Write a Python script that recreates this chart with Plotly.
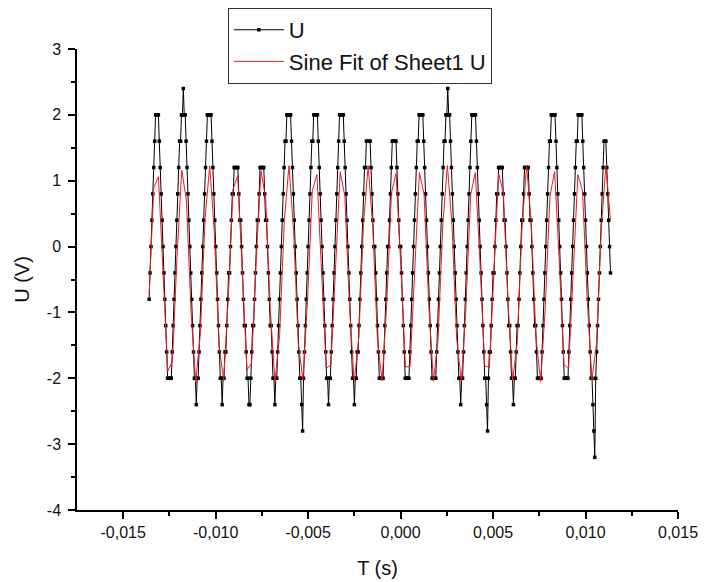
import plotly.graph_objects as go

# ---------------- data ----------------
# sample times of the measured signal, in milliseconds
T_MS = [
    -13.60,-13.55,-13.50,-13.45,-13.40,-13.35,-13.30,-13.25,-13.20,-13.15,-13.10,-13.05,-13.00,-12.95,-12.90,-12.85,-12.80,-12.75,-12.70,-12.65,
    -12.60,-12.55,-12.50,-12.45,-12.40,-12.35,-12.30,-12.25,-12.20,-12.15,-12.10,-12.05,-12.00,-11.95,-11.90,-11.85,-11.80,-11.75,-11.70,-11.65,
    -11.60,-11.55,-11.50,-11.45,-11.40,-11.35,-11.30,-11.25,-11.20,-11.15,-11.10,-11.05,-11.00,-10.95,-10.90,-10.85,-10.80,-10.75,-10.70,-10.65,
    -10.60,-10.55,-10.50,-10.45,-10.40,-10.35,-10.30,-10.25,-10.20,-10.15,-10.10,-10.05,-10.00,-9.95,-9.90,-9.85,-9.80,-9.75,-9.70,-9.65,
    -9.60,-9.55,-9.50,-9.45,-9.40,-9.35,-9.30,-9.25,-9.20,-9.15,-9.10,-9.05,-9.00,-8.95,-8.90,-8.85,-8.80,-8.75,-8.70,-8.65,
    -8.60,-8.55,-8.50,-8.45,-8.40,-8.35,-8.30,-8.25,-8.20,-8.15,-8.10,-8.05,-8.00,-7.95,-7.90,-7.85,-7.80,-7.75,-7.70,-7.65,
    -7.60,-7.55,-7.50,-7.45,-7.40,-7.35,-7.30,-7.25,-7.20,-7.15,-7.10,-7.05,-7.00,-6.95,-6.90,-6.85,-6.80,-6.75,-6.70,-6.65,
    -6.60,-6.55,-6.50,-6.45,-6.40,-6.35,-6.30,-6.25,-6.20,-6.15,-6.10,-6.05,-6.00,-5.95,-5.90,-5.85,-5.80,-5.75,-5.70,-5.65,
    -5.60,-5.55,-5.50,-5.45,-5.40,-5.35,-5.30,-5.25,-5.20,-5.15,-5.10,-5.05,-5.00,-4.95,-4.90,-4.85,-4.80,-4.75,-4.70,-4.65,
    -4.60,-4.55,-4.50,-4.45,-4.40,-4.35,-4.30,-4.25,-4.20,-4.15,-4.10,-4.05,-4.00,-3.95,-3.90,-3.85,-3.80,-3.75,-3.70,-3.65,
    -3.60,-3.55,-3.50,-3.45,-3.40,-3.35,-3.30,-3.25,-3.20,-3.15,-3.10,-3.05,-3.00,-2.95,-2.90,-2.85,-2.80,-2.75,-2.70,-2.65,
    -2.60,-2.55,-2.50,-2.45,-2.40,-2.35,-2.30,-2.25,-2.20,-2.15,-2.10,-2.05,-2.00,-1.95,-1.90,-1.85,-1.80,-1.75,-1.70,-1.65,
    -1.60,-1.55,-1.50,-1.45,-1.40,-1.35,-1.30,-1.25,-1.20,-1.15,-1.10,-1.05,-1.00,-0.95,-0.90,-0.85,-0.80,-0.75,-0.70,-0.65,
    -0.60,-0.55,-0.50,-0.45,-0.40,-0.35,-0.30,-0.25,-0.20,-0.15,-0.10,-0.05,0.00,0.05,0.10,0.15,0.20,0.25,0.30,0.35,
    0.40,0.45,0.50,0.55,0.60,0.65,0.70,0.75,0.80,0.85,0.90,0.95,1.00,1.05,1.10,1.15,1.20,1.25,1.30,1.35,
    1.40,1.45,1.50,1.55,1.60,1.65,1.70,1.75,1.80,1.85,1.90,1.95,2.00,2.05,2.10,2.15,2.20,2.25,2.30,2.35,
    2.40,2.45,2.50,2.55,2.60,2.65,2.70,2.75,2.80,2.85,2.90,2.95,3.00,3.05,3.10,3.15,3.20,3.25,3.30,3.35,
    3.40,3.45,3.50,3.55,3.60,3.65,3.70,3.75,3.80,3.85,3.90,3.95,4.00,4.05,4.10,4.15,4.20,4.25,4.30,4.35,
    4.40,4.45,4.50,4.55,4.60,4.65,4.70,4.75,4.80,4.85,4.90,4.95,5.00,5.05,5.10,5.15,5.20,5.25,5.30,5.35,
    5.40,5.45,5.50,5.55,5.60,5.65,5.70,5.75,5.80,5.85,5.90,5.95,6.00,6.05,6.10,6.15,6.20,6.25,6.30,6.35,
    6.40,6.45,6.50,6.55,6.60,6.65,6.70,6.75,6.80,6.85,6.90,6.95,7.00,7.05,7.10,7.15,7.20,7.25,7.30,7.35,
    7.40,7.45,7.50,7.55,7.60,7.65,7.70,7.75,7.80,7.85,7.90,7.95,8.00,8.05,8.10,8.15,8.20,8.25,8.30,8.35,
    8.40,8.45,8.50,8.55,8.60,8.65,8.70,8.75,8.80,8.85,8.90,8.95,9.00,9.05,9.10,9.15,9.20,9.25,9.30,9.35,
    9.40,9.45,9.50,9.55,9.60,9.65,9.70,9.75,9.80,9.85,9.90,9.95,10.00,10.05,10.10,10.15,10.20,10.25,10.30,10.35,
    10.40,10.45,10.50,10.55,10.60,10.65,10.70,10.75,10.80,10.85,10.90,10.95,11.00,11.05,11.10,11.15,11.20,11.25,11.30,11.35,
]

# measured voltage U (V), quantised in 0.4 V steps, one line per cycle
U = [
    -0.8,-0.4,0,0.4,0.8,1.2,1.6,2.0,
    2.0,2.0,2.0,1.6,1.2,0.8,0.4,0,-0.4,-0.8,-1.2,-1.6,-2.0,-2.0, -2.0,-2.0,-2.0,-1.6,-1.2,-0.8,-0.4,0,0.4,0.8,1.2,1.6,1.6,2.0,2.0,
    2.4,2.0,2.0,1.6,1.2,0.8,0.4,0,-0.4,-0.8,-1.2,-1.6,-2.0,-2.0, -2.4,-2.0,-2.0,-1.6,-1.2,-0.8,-0.4,0,0.4,0.8,1.2,1.6,2.0,2.0,
    2.0,2.0,2.0,1.6,1.2,0.8,0.4,0,-0.4,-0.8,-1.2,-1.6,-2.0,-2.0, -2.4,-2.0,-2.0,-1.6,-1.6,-1.2,-0.8,-0.4,-0.4,0,0.4,0.8,0.8,1.2,1.2,
    1.2,1.2,1.2,0.8,0.4,0.4,0,-0.4,-0.8,-1.2,-1.2,-1.6,-2.0,-2.0, -2.4,-2.4,-2.0,-1.6,-1.2,-1.2,-0.8,-0.4,0,0.4,0.4,0.8,1.2,1.2,
    1.2,1.2,1.2,0.8,0.4,0.4,0,-0.4,-0.8,-1.2,-1.2,-1.6,-2.0,-2.0, -2.4,-2.0,-2.0,-1.6,-1.2,-0.8,-0.4,0,0.4,0.8,1.2,1.6,1.6,2.0,2.0,
    2.0,2.0,2.0,1.6,1.2,0.8,0.4,0,-0.4,-0.8,-1.2,-1.6,-2.0,-2.0, -2.4,-2.8,-2.0,-1.6,-1.2,-0.8,-0.4,0,0.4,0.8,1.2,1.6,1.6,2.0,2.0,
    2.0,2.0,2.0,1.6,1.2,0.8,0.4,0,-0.4,-0.8,-1.2,-1.6,-2.0,-2.0, -2.4,-2.0,-2.0,-1.6,-1.2,-0.8,-0.4,0,0.4,0.8,1.2,1.6,2.0,2.0,
    2.0,2.0,2.0,1.6,1.2,0.8,0.4,0,-0.4,-0.8,-1.2,-1.6,-2.0,-2.0, -2.4,-2.0,-2.0,-1.6,-1.6,-1.2,-0.8,-0.4,0,0.4,0.8,1.2,1.2,1.6,1.6,
    1.6,1.6,1.6,1.2,0.8,0.4,0,0,-0.4,-0.8,-1.2,-1.6,-2.0,-2.0, -2.0,-2.0,-2.0,-1.6,-1.2,-0.8,-0.4,0,0,0.4,0.8,1.2,1.6,1.6,
    1.6,1.6,1.6,1.2,0.8,0.4,0,0,-0.4,-0.8,-1.2,-1.6,-2.0,-2.0, -2.0,-2.0,-2.0,-1.6,-1.2,-0.8,-0.4,0,0.4,0.8,1.2,1.6,1.6,2.0,2.0,
    2.0,2.0,2.0,1.6,1.2,0.8,0.4,0,-0.4,-0.8,-1.2,-1.6,-2.0,-2.0, -2.0,-2.0,-2.0,-1.6,-1.2,-0.8,-0.4,0,0.4,0.8,1.2,1.6,1.6,2.0,2.0,
    2.4,2.0,2.0,1.6,1.2,0.8,0.4,0,-0.4,-0.8,-1.2,-1.6,-2.0,-2.0, -2.4,-2.0,-2.0,-1.6,-1.2,-0.8,-0.4,0,0.4,0.8,1.2,1.6,2.0,2.0,
    2.0,2.0,2.0,1.6,1.2,0.8,0.4,0,-0.4,-0.8,-1.2,-1.6,-2.0,-2.0, -2.4,-2.8,-2.0,-1.6,-1.6,-1.2,-0.8,-0.4,-0.4,0,0.4,0.8,0.8,1.2,1.2,
    1.2,1.2,1.2,0.8,0.4,0.4,0,-0.4,-0.8,-1.2,-1.2,-1.6,-2.0,-2.0, -2.4,-2.0,-2.0,-1.6,-1.2,-1.2,-0.8,-0.4,0,0.4,0.4,0.8,1.2,1.2,
    1.2,1.2,1.2,0.8,0.4,0.4,0,-0.4,-0.8,-1.2,-1.2,-1.6,-2.0,-2.0, -2.0,-2.0,-2.0,-1.6,-1.2,-0.8,-0.4,0,0.4,0.8,1.2,1.6,1.6,2.0,2.0,
    2.0,2.0,2.0,1.6,1.2,0.8,0.4,0,-0.4,-0.8,-1.2,-1.6,-2.0,-2.0, -2.0,-2.0,-2.0,-1.6,-1.2,-0.8,-0.4,0,0.4,0.8,1.2,1.6,1.6,2.0,2.0,
    2.0,2.0,2.0,1.6,1.2,0.8,0.4,0,-0.4,-0.8,-1.2,-1.6,-2.0,-2.0, -2.4,-2.8,-3.2,-2.0,-1.6,-1.2,-0.8,-0.4,0,0.4,0.8,1.2,1.6,1.6,
    1.6,1.2,0.8,0.4,0,-0.4,
]

# points of the fitted sine curve (100 points across the data range)
FIT_T_MS = [
    -13.600,-13.348,-13.096,-12.844,-12.592,-12.340,-12.088,-11.836,-11.584,-11.332,
    -11.080,-10.828,-10.576,-10.324,-10.072,-9.820,-9.568,-9.316,-9.064,-8.812,
    -8.560,-8.308,-8.056,-7.804,-7.552,-7.299,-7.047,-6.795,-6.543,-6.291,
    -6.039,-5.787,-5.535,-5.283,-5.031,-4.779,-4.527,-4.275,-4.023,-3.771,
    -3.519,-3.267,-3.015,-2.763,-2.511,-2.259,-2.007,-1.755,-1.503,-1.251,
    -0.999,-0.747,-0.495,-0.243,0.009,0.261,0.513,0.765,1.017,1.269,
    1.521,1.773,2.025,2.277,2.529,2.781,3.033,3.285,3.537,3.789,
    4.041,4.293,4.545,4.797,5.049,5.302,5.554,5.806,6.058,6.310,
    6.562,6.814,7.066,7.318,7.570,7.822,8.074,8.326,8.578,8.830,
    9.082,9.334,9.586,9.838,10.090,10.342,10.594,10.846,11.098,11.350,
]
FIT_U = [
    -0.726,0.893,1.061,-0.410,-1.891,-1.746,-0.134,1.161,0.708,-0.993,
    -2.060,-1.314,0.421,1.226,0.210,-1.502,-2.018,-0.766,0.868,1.078,
    -0.369,-1.872,-1.770,-0.174,1.149,0.737,-0.954,-2.055,-1.348,0.386,
    1.228,0.248,-1.471,-2.028,-0.806,0.842,1.095,-0.328,-1.852,-1.793,
    -0.215,1.136,0.766,-0.916,-2.049,-1.381,0.350,1.230,0.285,-1.439,
    -2.036,-0.846,0.816,1.111,-0.287,-1.832,-1.815,-0.255,1.122,0.794,
    -0.876,-2.042,-1.414,0.314,1.230,0.322,-1.407,-2.044,-0.885,0.788,
    1.125,-0.247,-1.810,-1.837,-0.296,1.107,0.822,-0.837,-2.035,-1.447,
    0.277,1.229,0.358,-1.374,-2.051,-0.924,0.760,1.139,-0.206,-1.788,
    -1.857,-0.337,1.091,0.848,-0.797,-2.025,-1.478,0.240,1.228,0.394,
]

X_TICKS = [-0.015, -0.010, -0.005, 0.0, 0.005, 0.010, 0.015]
X_TICK_LABELS = ["-0,015", "-0,010", "-0,005", "0,000", "0,005", "0,010", "0,015"]
X_MINOR = [-0.0125, -0.0075, -0.0025, 0.0025, 0.0075, 0.0125]
Y_TICKS = [-4, -3, -2, -1, 0, 1, 2, 3]
Y_TICK_LABELS = ["-4", "-3", "-2", "-1", "0", "1", "2", "3"]
Y_MINOR = [-3.5, -2.5, -1.5, -0.5, 0.5, 1.5, 2.5]

assert len(T_MS) == len(U), (len(T_MS), len(U))
assert len(FIT_T_MS) == len(FIT_U)

T = [t / 1000.0 for t in T_MS]
FIT_T = [t / 1000.0 for t in FIT_T_MS]

FONT = "Arial, 'Liberation Sans', sans-serif"

fig = go.Figure()
fig.add_trace(go.Scatter(
    x=T, y=U, name="U", mode="lines+markers",
    line=dict(color="#000000", width=1),
    marker=dict(symbol="square", size=3.5, color="#000000", line=dict(width=0)),
))
fig.add_trace(go.Scatter(
    x=FIT_T, y=FIT_U, name="Sine Fit of Sheet1 U", mode="lines",
    line=dict(color="#ea1c24", width=1),
))

axis_common = dict(
    showline=True, linecolor="#000000", linewidth=1.5,
    ticks="outside", tickcolor="#000000", tickwidth=1.5,
    showgrid=False, zeroline=False, mirror=False,
    tickfont=dict(family=FONT, size=16, color="#111111"),
    title_font=dict(family=FONT, size=20, color="#111111"),
)

fig.update_layout(
    width=705, height=582,
    margin=dict(l=77, r=27, t=49, b=72, autoexpand=False),
    paper_bgcolor="white", plot_bgcolor="white",
    font=dict(family=FONT, color="#111111"),
    showlegend=True,
    legend=dict(
        x=0.251, y=1.089, xanchor="left", yanchor="top",
        bgcolor="white", bordercolor="#333333", borderwidth=1,
        font=dict(family=FONT, size=22, color="#111111"),
        itemwidth=50, tracegroupgap=0,
    ),
    xaxis=dict(
        range=[-0.0175, 0.015],
        tickmode="array", tickvals=X_TICKS, ticktext=X_TICK_LABELS,
        ticklen=7,
        minor=dict(tickmode="array", tickvals=X_MINOR, ticks="outside",
                   ticklen=4, tickcolor="#000000", tickwidth=1.5),
        title=dict(text="T (s)", standoff=21),
        **axis_common,
    ),
    yaxis=dict(
        range=[-4, 3],
        tickmode="array", tickvals=Y_TICKS, ticktext=Y_TICK_LABELS,
        ticklen=7, ticklabelstandoff=4,
        minor=dict(tickmode="array", tickvals=Y_MINOR, ticks="outside",
                   ticklen=4, tickcolor="#000000", tickwidth=1.5),
        title=dict(text="U (V)", standoff=12),
        **axis_common,
    ),
)

fig.write_html(
    "out.html",
    config={"displayModeBar": False},
    post_script="document.body.style.margin='0px';document.body.style.overflow='hidden';",
)
